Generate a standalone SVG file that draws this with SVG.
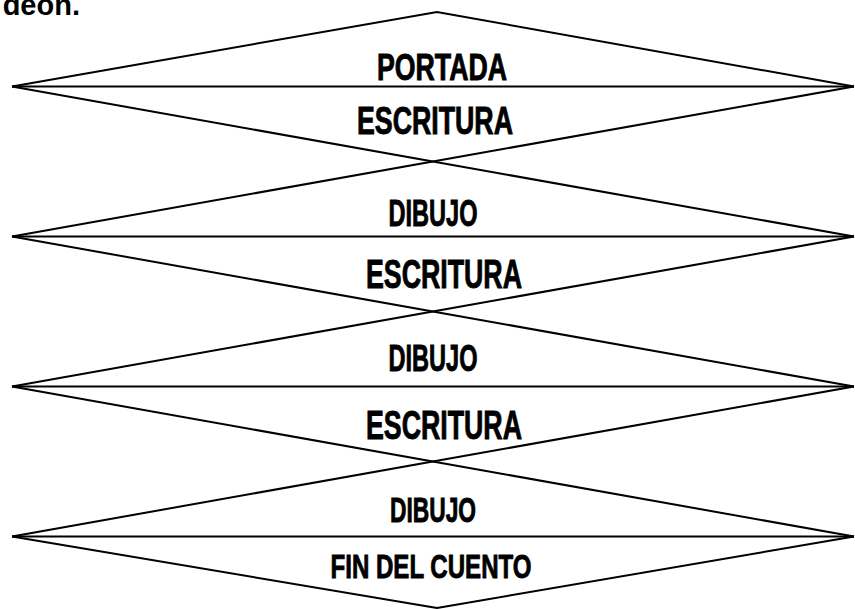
<svg xmlns="http://www.w3.org/2000/svg" width="855" height="609" viewBox="0 0 855 609">
<style>
.ln{stroke:#000;stroke-width:2;fill:none;stroke-linejoin:miter}
.lb{font-family:"Liberation Sans Narrow","Liberation Sans",Arial,sans-serif;font-weight:bold;fill:#000;stroke:#000;stroke-width:0.9;text-anchor:middle}
.hd{font-family:"Liberation Sans",Arial,sans-serif;font-weight:bold;fill:#000;font-size:29px;text-anchor:end}
</style>
<rect width="855" height="609" fill="#fff"/>
<text class="hd" x="80" y="15">deon.</text>
<g id="connectors">
<polyline class="ln" points="12,86.5 437,12 854,86.5"/>
<line class="ln" x1="12" y1="86.5" x2="854" y2="86.5"/>
<line class="ln" x1="12" y1="236.5" x2="854" y2="236.5"/>
<line class="ln" x1="12" y1="386.5" x2="854" y2="386.5"/>
<line class="ln" x1="12" y1="536.5" x2="854" y2="536.5"/>
<line class="ln" x1="12" y1="86.5" x2="854" y2="236.5"/>
<line class="ln" x1="854" y1="86.5" x2="12" y2="236.5"/>
<line class="ln" x1="12" y1="236.5" x2="854" y2="386.5"/>
<line class="ln" x1="854" y1="236.5" x2="12" y2="386.5"/>
<line class="ln" x1="12" y1="386.5" x2="854" y2="536.5"/>
<line class="ln" x1="854" y1="386.5" x2="12" y2="536.5"/>
<polyline class="ln" points="12,536.5 437,608 854,536.5"/>
</g>
<g id="portada"><text class="lb" x="442" y="80" font-size="37" textLength="130" lengthAdjust="spacingAndGlyphs">PORTADA</text></g>
<g id="escritura1"><text class="lb" x="435" y="134" font-size="38" textLength="156" lengthAdjust="spacingAndGlyphs">ESCRITURA</text></g>
<g id="dibujo1"><text class="lb" x="433" y="226" font-size="37" textLength="89" lengthAdjust="spacingAndGlyphs">DIBUJO</text></g>
<g id="escritura2"><text class="lb" x="444" y="288" font-size="40" textLength="156" lengthAdjust="spacingAndGlyphs">ESCRITURA</text></g>
<g id="dibujo2"><text class="lb" x="433" y="371" font-size="37" textLength="89" lengthAdjust="spacingAndGlyphs">DIBUJO</text></g>
<g id="escritura3"><text class="lb" x="444" y="439" font-size="40" textLength="156" lengthAdjust="spacingAndGlyphs">ESCRITURA</text></g>
<g id="dibujo3"><text class="lb" x="433" y="522" font-size="35" textLength="86" lengthAdjust="spacingAndGlyphs">DIBUJO</text></g>
<g id="fin"><text class="lb" x="431" y="578" font-size="34" textLength="201" lengthAdjust="spacingAndGlyphs">FIN DEL CUENTO</text></g>
</svg>
